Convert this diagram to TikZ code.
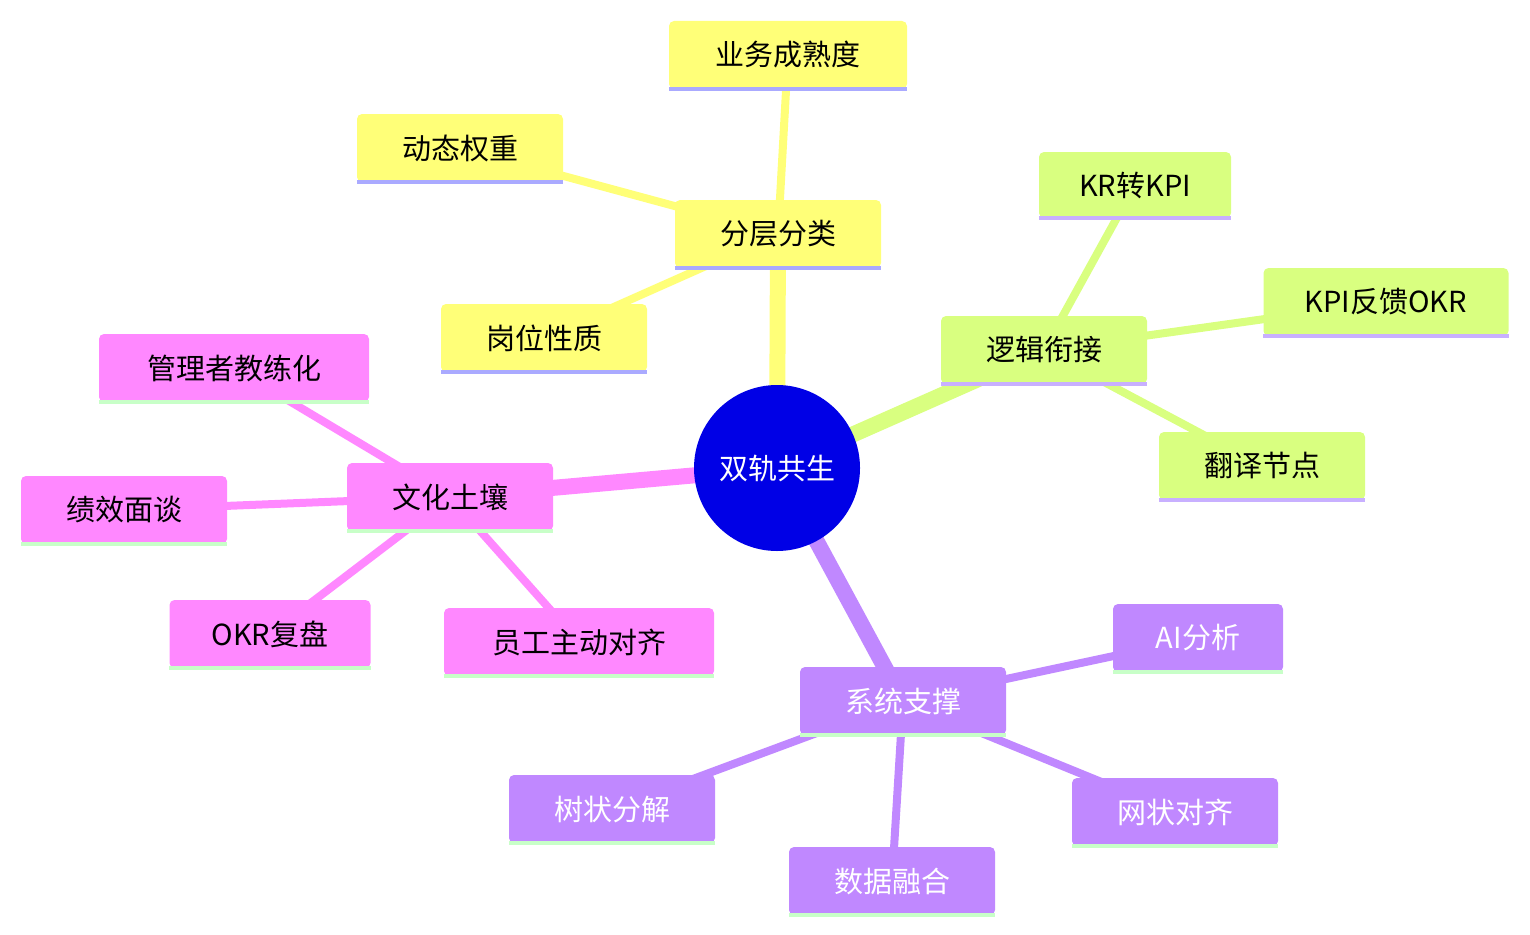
\documentclass[tikz,border=0pt]{standalone}
\usepackage{fontspec}
\setmainfont{Noto Sans CJK SC}
\usetikzlibrary{backgrounds}
\definecolor{yel}{HTML}{FFFF78}
\definecolor{grn}{HTML}{D9FF80}
\definecolor{pnk}{HTML}{FF88FF}
\definecolor{pur}{HTML}{C088FF}
\definecolor{lav}{HTML}{AAAAFF}
\definecolor{lav2}{HTML}{C8B0FF}
\definecolor{lgrn}{HTML}{C8FFC8}
\definecolor{rootblue}{HTML}{0000E6}
\tikzset{
  leaf/.style={rectangle, rounded corners=5pt, fill=#1, minimum width=206pt,
    minimum height=68pt, inner sep=0pt, font=\fontsize{29}{32}\selectfont},
  link/.style={draw=#1, line width=8pt},
  trunk/.style={draw=#1, line width=16pt},
}
\begin{document}
\begin{tikzpicture}[x=1pt,y=-1pt]
\useasboundingbox (0,0) rectangle (1530,934);
% root
\node [circle, fill=rootblue, minimum size=166pt, text=white,
  font=\fontsize{29}{32}\selectfont] (root) at (777,468) {双轨共生};
% yellow branch
\node [leaf=yel] (layer) at (778,234) {分层分类};
\node [leaf=yel, minimum width=238pt] (mature) at (788,55) {业务成熟度};
\node [leaf=yel] (weight) at (460,148) {动态权重};
\node [leaf=yel] (post) at (544,338) {岗位性质};
% green branch
\node [leaf=grn] (logic) at (1044,350) {逻辑衔接};
\node [leaf=grn, minimum width=192pt, minimum height=66pt] (krkpi) at (1135,185) {KR转KPI};
\node [leaf=grn, minimum width=245pt] (kpiokr) at (1386,302) {KPI反馈OKR};
\node [leaf=grn] (trans) at (1262,466) {翻译节点};
% pink branch
\node [leaf=pnk] (culture) at (450,497) {文化土壤};
\node [leaf=pnk, minimum width=270pt] (coach) at (234,368) {管理者教练化};
\node [leaf=pnk] (talk) at (124,510) {绩效面谈};
\node [leaf=pnk, minimum width=201pt] (review) at (270,634) {OKR复盘};
\node [leaf=pnk, minimum width=270pt] (align) at (579,642) {员工主动对齐};
% purple branch
\node [leaf=pur, text=white] (system) at (903,701) {系统支撑};
\node [leaf=pur, text=white, minimum width=170pt] (ai) at (1198,638) {AI分析};
\node [leaf=pur, text=white] (tree) at (612,809) {树状分解};
\node [leaf=pur, text=white] (data) at (892,881) {数据融合};
\node [leaf=pur, text=white] (net) at (1175,812) {网状对齐};
% bottom lines
\foreach \n in {layer,mature,weight,post}
  \draw [lav, line width=4pt] (\n.south west) -- (\n.south east);
\foreach \n in {logic,krkpi,kpiokr,trans}
  \draw [lav2, line width=4pt] (\n.south west) -- (\n.south east);
\foreach \n in {culture,coach,talk,review,align,system,ai,tree,data,net}
  \draw [lgrn, line width=4pt] (\n.south west) -- (\n.south east);
% connectors
\begin{scope}[on background layer]
\draw [trunk=yel] (root.center) -- (layer.center);
\draw [trunk=grn] (root.center) -- (logic.center);
\draw [trunk=pnk] (root.center) -- (culture.center);
\draw [trunk=pur] (root.center) -- (system.center);
\foreach \n in {mature,weight,post}
  \draw [link=yel] (layer.center) -- (\n.center);
\foreach \n in {krkpi,kpiokr,trans}
  \draw [link=grn] (logic.center) -- (\n.center);
\foreach \n in {coach,talk,review,align}
  \draw [link=pnk] (culture.center) -- (\n.center);
\foreach \n in {ai,tree,data,net}
  \draw [link=pur] (system.center) -- (\n.center);
\end{scope}
\end{tikzpicture}
\end{document}
